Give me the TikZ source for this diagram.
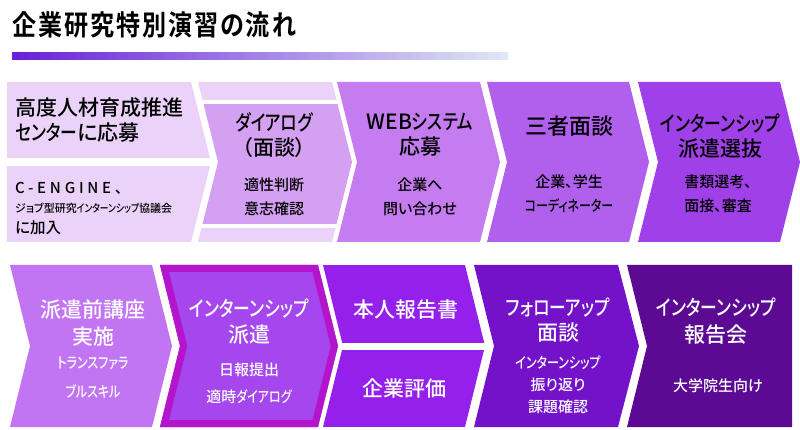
\documentclass[tikz,border=0pt]{standalone}
\usepackage{fontspec}
\setmainfont{Noto Sans CJK JP Medium}[RawFeature={+palt}, BoldFont={Noto Sans CJK JP Bold}]
\newcommand\kn[1]{{\addfontfeatures{FakeStretch=0.8}#1}}
\definecolor{barL}{HTML}{6A1FD8}
\definecolor{barM}{HTML}{B489E6}
\definecolor{barR}{HTML}{E0E8F6}
\definecolor{lavLight}{HTML}{EAD2F9}
\definecolor{lavMid}{HTML}{D4A0F2}
\definecolor{vioWeb}{HTML}{C57CF0}
\definecolor{vioMeet}{HTML}{B060EC}
\definecolor{vioSel}{HTML}{A040E8}
\definecolor{vioPrep}{HTML}{C275F2}
\definecolor{vioRim}{HTML}{B414CC}
\definecolor{vioSend}{HTML}{A646EE}
\definecolor{vioRep}{HTML}{9520EC}
\definecolor{vioFol}{HTML}{7412CA}
\definecolor{vioEnd}{HTML}{5C0A94}

\begin{document}
\begin{tikzpicture}[
  x=1pt, y=-1pt,
  ttl/.style={font=\fontsize{21}{25}\selectfont, align=center, inner sep=0pt},
  sub/.style={font=\fontsize{15}{24}\selectfont, align=center, inner sep=0pt},
  wt/.style={text=white}
]
\useasboundingbox (0,0) rectangle (800,430);

\node[anchor=west, inner sep=0pt, xscale=0.86, font=\fontsize{28}{28}\bfseries\selectfont] (title) at (12,25)
  {\addfontfeatures{LetterSpace=8}企業研究特別演習の流れ};
\shade[left color=barL, middle color=barM, right color=barR] (12,53) rectangle (508,60);

% upper row
\begin{scope}
  \clip (7,82) -- (191,82) -- (211,162) -- (191,242) -- (7,242) -- cycle;
  \fill[lavLight] (0,82) rectangle (230,158);
  \fill[lavLight] (0,166) rectangle (230,242);
\end{scope}
\begin{scope}
  \clip (198,82) -- (332,82) -- (352,162) -- (332,242) -- (198,242) -- (218,162) -- cycle;
  \fill[lavLight] (190,82) rectangle (360,100);
  \fill[lavMid] (190,104) rectangle (360,224);
  \fill[lavLight] (190,228) rectangle (360,242);
\end{scope}
\fill[vioWeb] (337,82) -- (480,82) -- (500,162) -- (480,242) -- (337,242) -- (357,162) -- cycle;
\fill[vioMeet] (487,82) -- (629,82) -- (649,162) -- (629,242) -- (487,242) -- (507,162) -- cycle;
\fill[vioSel] (638,82) -- (780,82) -- (800,162) -- (780,242) -- (638,242) -- (658,162) -- cycle;

\node[ttl, align=left, anchor=west] (apply) at (15,120) {高度人材育成推進\\\kn{センター}に応募};
\node[anchor=west, inner sep=0pt, font=\fontsize{15}{15}\selectfont] (cengine) at (15,188)
  {\addfontfeatures{LetterSpace=25}C-ENGINE、};
\node[anchor=west, inner sep=0pt, font=\fontsize{11}{11}\selectfont] (council) at (15,208)
  {ジョブ型研究\kn{インターンシップ}協議会};
\node[anchor=west, inner sep=0pt, font=\fontsize{15.5}{15.5}\selectfont] (join) at (15,228) {に加入};

\node[ttl] (dialog) at (274,135.5) {\kn{ダイアログ}\\（面談）};
\node[sub] (dialogsub) at (274,197) {適性判断\\意志確認};
\node[ttl] (web) at (420,134.5) {WEB\kn{システム}\\応募};
\node[sub] (websub) at (420,196.5) {企業へ\\問い合わせ};
\node[ttl, font=\fontsize{22}{26}\selectfont] (three) at (569,126) {三者面談};
\node[sub] (threesub) at (569,194) {企業、学生\\\kn{コーディネーター}};
\node[ttl] (select) at (720,136) {\kn{インターンシップ}\\派遣選抜};
\node[sub] (selectsub) at (718,194) {書類選考、\\面接、審査};

% lower row
\fill[vioPrep] (10,265) -- (152,265) -- (172,346) -- (152,427) -- (10,427) -- (30,346) -- cycle;
\begin{scope}
  \clip (160,265) -- (318,265) -- (338,346) -- (318,427) -- (160,427) -- (180,346) -- cycle;
  \fill[vioSend] (150,260) rectangle (345,430);
  \draw[vioRim, line width=14pt] (160,265) -- (318,265) -- (338,346) -- (318,427) -- (160,427) -- (180,346) -- cycle;
\end{scope}
\begin{scope}
  \clip (323,265) -- (465,265) -- (485,346) -- (465,427) -- (323,427) -- (343,346) -- cycle;
  \fill[vioRep] (315,265) rectangle (490,343);
  \fill[vioRep] (315,350) rectangle (490,427);
\end{scope}
\fill[vioFol] (474,265) -- (618,265) -- (639,346) -- (618,427) -- (474,427) -- (494,346) -- cycle;
\fill[vioEnd] (627,265) -- (792,265) -- (792,427) -- (627,427) -- (647,346) -- cycle;

\node[ttl, wt, font=\fontsize{21}{27}\selectfont] (prep) at (93,323.5) {派遣前講座\\実施};
\node[sub, wt, font=\fontsize{15}{29}\selectfont] (prepsub) at (93,377.5) {\kn{トランスファラ}\\\kn{ブルスキル}};
\node[ttl, wt, font=\fontsize{21}{26}\selectfont] (send) at (249,322) {\kn{インターンシップ}\\派遣};
\node[sub, wt, font=\fontsize{15}{27}\selectfont] (sendsub) at (249,383.5) {日報提出\\適時\kn{ダイアログ}};
\node[ttl, wt] (selfrep) at (406,310) {本人報告書};
\node[ttl, wt] (corpeval) at (404,388) {企業評価};
\node[ttl, wt] (follow) at (558,320) {\kn{フォローアップ}\\面談};
\node[sub, wt, font=\fontsize{15}{22}\selectfont] (followsub) at (558,385) {\kn{インターンシップ}\\振り返り\\課題確認};
\node[ttl, wt, font=\fontsize{21}{27}\selectfont] (final) at (716,321.5) {\kn{インターンシップ}\\報告会};
\node[sub, wt] (finalsub) at (718,386) {大学院生向け};
\end{tikzpicture}
\end{document}
